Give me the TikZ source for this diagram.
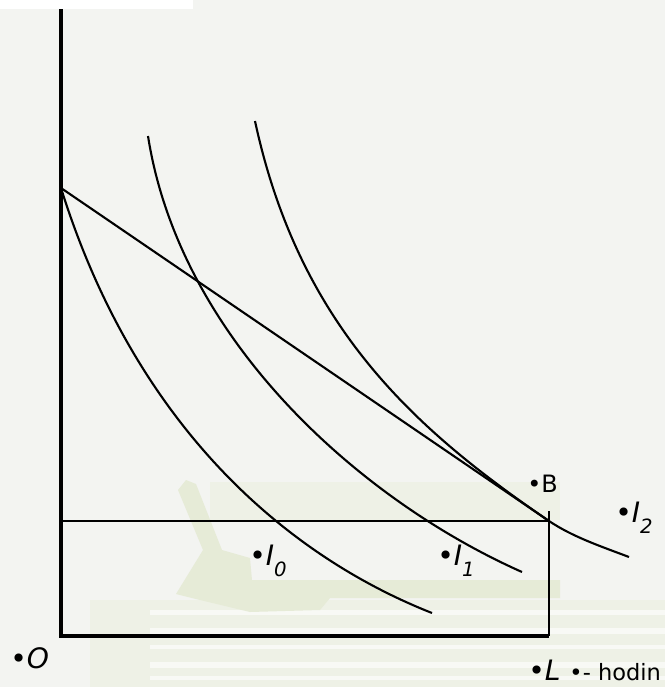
\documentclass[tikz,border=0pt]{standalone}
\usepackage{fontspec}
\setmainfont{DejaVu Sans}
\usetikzlibrary{positioning}
\definecolor{slidebg}{HTML}{F3F4F1}
\definecolor{chairgreen}{HTML}{E6EBD7}
\definecolor{bandgreen}{HTML}{EEF1E6}

\begin{document}
\begin{tikzpicture}[x=0.025cm, y=-0.025cm,
  curve/.style={line width=1.5pt},
  guide/.style={line width=1.3pt},
  lab/.style={inner sep=0pt, anchor=base west, font=\fontsize{20}{20}\selectfont}
]
% slide background
\fill[slidebg] (0,0) rectangle (665,687);
\fill[white] (0,0) rectangle (193,9);
\fill[bandgreen] (210,482) rectangle (560,520);
\fill[bandgreen] (90,600) rectangle (665,687);
\foreach \yy/\hh in {610/5, 628/6, 645/4, 662/6, 676/4}
  \fill[white!60!bandgreen] (150,\yy) rectangle (665,\yy+\hh);
\fill[chairgreen] (178,490) -- (186,480) -- (196,484) -- (222,550) -- (250,558)
  -- (252,580) -- (560,580) -- (560,598) -- (330,598) -- (320,610)
  -- (250,612) -- (200,600) -- (176,594) -- (203,550) -- cycle;
\useasboundingbox (0,0) rectangle (665,687);

% axes and guides
\coordinate (top) at (61,9);
\coordinate (O) at (61,636);
\coordinate (A) at (61,188);
\coordinate (B) at (549,521);
\coordinate (Bh) at (61,521);
\coordinate (Bv) at (549,511);
\coordinate (L) at (549,636);
\draw[line width=3.4pt] (top) -- (O);
\draw[line width=2.8pt] (59,636) -- (L);
\draw[guide] (Bh) -- (B);
\draw[guide] (Bv) -- (L);
\draw[curve] (A) -- (B);

% indifference curves
\draw[curve] (A) .. controls (135,425) and (285,555) .. (432,613);
\draw[curve] (148,136) .. controls (180,340) and (360,500) .. (522,572);
\draw[curve] (255,121) .. controls (300,330) and (419,432) .. (B)
  .. controls (573,537) and (600,546) .. (629,557);

% labels
\node[lab, font=\fontsize{17}{17}\selectfont] (labB) at (527,492) {•B};
\node[lab] (labI0) at (249,565)
  {•\textit{I}\raisebox{-0.4em}{\fontsize{14}{14}\selectfont\itshape 0}};
\node[lab] (labI1) at (437,565)
  {•\textit{I}\raisebox{-0.4em}{\fontsize{14}{14}\selectfont\itshape 1}};
\node[lab] (labI2) at (615,522)
  {•\textit{I}\raisebox{-0.4em}{\fontsize{14}{14}\selectfont\itshape 2}};
\node[lab] (labO) at (10,668) {•\textit{O}};
\node[lab] (labL) at (528,680)
  {•\textit{L} {\fontsize{16}{16}\selectfont •- hodin}};
\end{tikzpicture}
\end{document}
